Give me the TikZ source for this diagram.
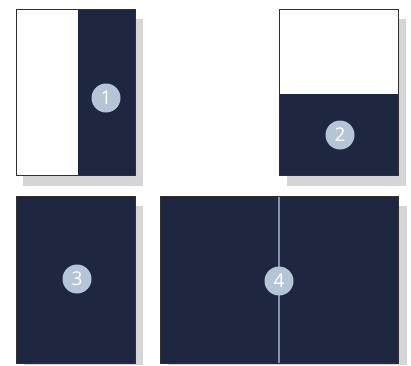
\documentclass[tikz,border=0pt]{standalone}
\usepackage{fontspec}
\setsansfont{Open Sans}
\definecolor{navy}{HTML}{1F2640}
\definecolor{badge}{HTML}{B5C5D7}
\definecolor{divider}{HTML}{8593B0}
\definecolor{shade}{HTML}{D6D6D6}
\definecolor{frame}{HTML}{303030}
\tikzset{
  shadowbox/.style={fill=shade, draw=none},
  pagebox/.style={draw=frame, line width=0.8pt},
  darkpart/.style={fill=navy, draw=none},
  numbadge/.style={circle, fill=badge, minimum size=29pt, inner sep=0pt,
    text=white, font=\sffamily\fontsize{19}{19}\selectfont},
}
\begin{document}
\begin{tikzpicture}[x=1pt,y=-1pt]
\useasboundingbox (0,0) rectangle (411,365);
% shadows
\fill[shadowbox] (23,19) rectangle (143,186);
\fill[shadowbox] (287,19) rectangle (406,186);
\fill[shadowbox] (24,206) rectangle (143,365);
\fill[shadowbox] (168,206) rectangle (407,365);
% box 1
\fill[white] (16,9) rectangle (135,175);
\fill[darkpart] (78,9) rectangle (135,175);
\draw[pagebox] (16,9) rectangle (135,175);
\node[numbadge] (n1) at (106,98) {1};
% box 2
\fill[white] (279,9) rectangle (398,175);
\fill[darkpart] (279,94) rectangle (398,175);
\draw[pagebox] (279,9) rectangle (398,175);
\node[numbadge] (n2) at (340,135) {2};
% box 3
\fill[darkpart] (16,196) rectangle (135,363);
\draw[pagebox] (16,196) rectangle (135,363);
\node[numbadge] (n3) at (77,279) {3};
% box 4
\fill[darkpart] (160,196) rectangle (398,363);
\draw[pagebox] (160,196) rectangle (398,363);
\coordinate (dtop) at (279,196.5);
\coordinate (dbot) at (279,362.5);
\draw[divider, line width=1.4pt] (dtop) -- (dbot);
\node[numbadge] (n4) at (279,281) {4};
\end{tikzpicture}
\end{document}
